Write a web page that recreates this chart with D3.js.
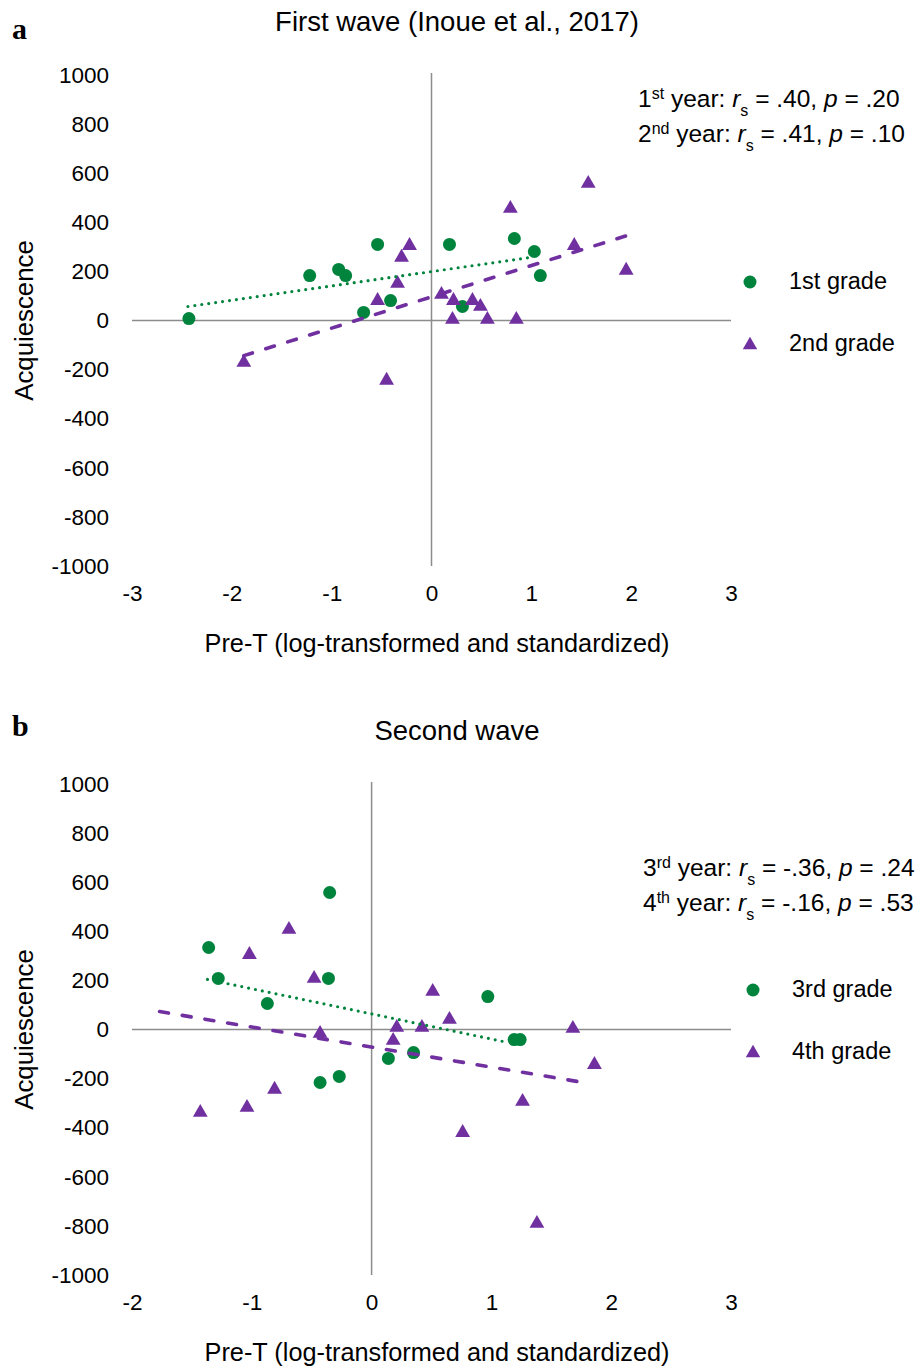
<!DOCTYPE html>
<html>
<head>
<meta charset="utf-8">
<script src="https://cdn.jsdelivr.net/npm/d3@7"></script>
<style>
  body { margin: 0; background: #fff; }
  text { font-family: "Liberation Sans", Arial, sans-serif; fill: #000; }
</style>
</head>
<body>
<div id="chart"></div>
<script>
// ---- data ----
var yTicks = [1000, 800, 600, 400, 200, 0, -200, -400, -600, -800, -1000];
var xTicksA = [-3, -2, -1, 0, 1, 2, 3];
var xTicksB = [-2, -1, 0, 1, 2, 3];

// First wave
var grade1X = [-2.43, -1.22, -0.93, -0.86, -0.54, -0.68, -0.41, 0.18, 0.31, 0.83, 1.03, 1.09];
var grade1Y = [8, 183, 208, 183, 310, 33, 81, 310, 57, 334, 281, 183];
var grade2X = [-1.88, -0.45, -0.54, -0.34, -0.30, -0.22, 0.10, 0.22, 0.21, 0.41, 0.49, 0.56, 0.85, 0.79, 1.57, 1.43, 1.95];
var grade2Y = [-171, -244, 81, 151, 257, 305, 106, 81, 4, 81, 57, 4, 4, 456, 558, 305, 204];
var trend1 = [[-2.44, 57], [0.99, 257]];
var trend2 = [[-1.88, -143], [1.96, 346]];

// Second wave
var grade3X = [-0.35, -1.36, -1.28, -0.36, -0.87, -0.43, -0.27, 0.14, 0.35, 0.97, 1.19, 1.24];
var grade3Y = [558, 334, 208, 208, 106, -216, -191, -118, -94, 134, -41, -41];
var grade4X = [-0.69, -1.02, -0.48, -0.43, -1.43, -1.04, -0.81, 0.21, 0.18, 0.42, 0.51, 0.65, 1.68, 1.86, 1.26, 0.76, 1.38];
var grade4Y = [407, 305, 208, -16, -338, -318, -244, 8, -45, 8, 155, 41, 4, -143, -293, -420, -790];
var trend3 = [[-1.37, 204], [1.14, -53]];
var trend4 = [[-1.77, 73], [1.77, -216]];

var green = "#00843d";
var purple = "#7030a0";
var axisGrey = "#8c8c8c";

var svg = d3.select("#chart")
  .append("svg")
  .attr("width", 919)
  .attr("height", 1367);

function zip(xs, ys) {
  return xs.map(function(x, i) { return { x: x, y: ys[i] }; });
}

// one panel of the figure
function drawPanel(opt) {
  var x = d3.scaleLinear().domain(opt.xDomain).range([132, 731]);
  var y = d3.scaleLinear().domain([-1000, 1000]).range([opt.top + 491, opt.top]);
  var g = svg.append("g");

  // panel letter + title
  g.append("text")
    .attr("x", 12).attr("y", opt.letterY)
    .style("font-family", "'Liberation Serif', 'Times New Roman', serif")
    .style("font-weight", "bold")
    .style("font-size", "30px")
    .text(opt.letter);

  g.append("text")
    .attr("x", 457).attr("y", opt.top - 44)
    .attr("text-anchor", "middle")
    .style("font-size", "27.5px")
    .text(opt.title);

  // tick labels only, axes lines drawn through zero
  var leftAxis = d3.axisLeft(y).tickValues(yTicks).tickSize(0).tickPadding(23)
    .tickFormat(function(d) { return String(d); });
  g.append("g")
    .attr("transform", "translate(132,0)")
    .call(leftAxis)
    .call(function(a) { a.select(".domain").remove(); })
    .selectAll("text")
    .style("font-family", "'Liberation Sans', Arial, sans-serif")
    .style("font-size", "22.5px")
    .attr("fill", "#000");

  var bottomAxis = d3.axisBottom(x).tickValues(opt.xTicks).tickSize(0).tickPadding(19)
    .tickFormat(function(d) { return String(d); });
  g.append("g")
    .attr("transform", "translate(0," + (opt.top + 491) + ")")
    .call(bottomAxis)
    .call(function(a) { a.select(".domain").remove(); })
    .selectAll("text")
    .style("font-family", "'Liberation Sans', Arial, sans-serif")
    .style("font-size", "22.5px")
    .attr("fill", "#000");

  g.append("line")
    .attr("x1", x(opt.xDomain[0])).attr("x2", x(opt.xDomain[1]))
    .attr("y1", y(0)).attr("y2", y(0))
    .attr("stroke", axisGrey).attr("stroke-width", 1.5);
  g.append("line")
    .attr("x1", x(0)).attr("x2", x(0))
    .attr("y1", y(1000) - 2).attr("y2", y(-1000))
    .attr("stroke", axisGrey).attr("stroke-width", 1.5);

  // axis titles
  g.append("text")
    .attr("x", 437).attr("y", opt.top + 577)
    .attr("text-anchor", "middle")
    .style("font-size", "25.3px")
    .text("Pre-T (log-transformed and standardized)");

  g.append("text")
    .attr("transform", "translate(33," + y(0) + ") rotate(-90)")
    .attr("text-anchor", "middle")
    .style("font-size", "25.8px")
    .text("Acquiescence");

  // markers
  g.selectAll(".dot")
    .data(zip(opt.cx, opt.cy))
    .enter()
    .append("circle")
    .attr("cx", function(d) { return x(d.x); })
    .attr("cy", function(d) { return y(d.y); })
    .attr("r", 6.5)
    .attr("fill", green);

  var tri = d3.symbol().type(d3.symbolTriangle).size(95);
  g.selectAll(".tri")
    .data(zip(opt.tx, opt.ty))
    .enter()
    .append("path")
    .attr("d", tri)
    .attr("transform", function(d) { return "translate(" + x(d.x) + "," + y(d.y) + ")"; })
    .attr("fill", purple);

  // trend lines
  var line = d3.line().x(function(d) { return x(d[0]); }).y(function(d) { return y(d[1]); });
  g.append("path")
    .attr("d", line(opt.trendC))
    .attr("fill", "none")
    .attr("stroke", green)
    .attr("stroke-width", 3.2)
    .attr("stroke-linecap", "round")
    .attr("stroke-dasharray", "0,7");
  g.append("path")
    .attr("d", line(opt.trendT))
    .attr("fill", "none")
    .attr("stroke", purple)
    .attr("stroke-width", 3.6)
    .attr("stroke-linecap", "round")
    .attr("stroke-dasharray", "9,14");

  // correlation notes
  opt.notes.forEach(function(n, i) {
    var t = g.append("text")
      .attr("x", opt.noteX).attr("y", opt.noteY + i * 35)
      .style("font-size", "24.5px");
    t.append("tspan").text(n[0]);
    t.append("tspan").attr("baseline-shift", "super").style("font-size", "16px").text(n[1]);
    t.append("tspan").text(" year: ");
    t.append("tspan").style("font-style", "italic").text("r");
    t.append("tspan").attr("baseline-shift", "sub").style("font-size", "16px").text("s");
    t.append("tspan").text(" = " + n[2] + ", ");
    t.append("tspan").style("font-style", "italic").text("p");
    t.append("tspan").text(" = " + n[3]);
  });

  // legend
  var lg = g.append("g");
  lg.append("circle")
    .attr("cx", opt.legX).attr("cy", opt.legY)
    .attr("r", 6.5).attr("fill", green);
  lg.append("text")
    .attr("x", opt.legX + 39).attr("y", opt.legY + 7)
    .style("font-size", "23.5px")
    .text(opt.legend[0]);
  lg.append("path")
    .attr("d", d3.symbol().type(d3.symbolTriangle).size(90))
    .attr("transform", "translate(" + opt.legX + "," + (opt.legY + 63) + ")")
    .attr("fill", purple);
  lg.append("text")
    .attr("x", opt.legX + 39).attr("y", opt.legY + 69)
    .style("font-size", "23.5px")
    .text(opt.legend[1]);
}

drawPanel({
  letter: "a", title: "First wave (Inoue et al., 2017)", top: 75, letterY: 39,
  xDomain: [-3, 3], xTicks: xTicksA,
  cx: grade1X, cy: grade1Y, tx: grade2X, ty: grade2Y,
  trendC: trend1, trendT: trend2,
  notes: [["1", "st", ".40", ".20"], ["2", "nd", ".41", ".10"]],
  noteX: 638, noteY: 107,
  legend: ["1st grade", "2nd grade"], legX: 750, legY: 282
});

drawPanel({
  letter: "b", title: "Second wave", top: 784, letterY: 736,
  xDomain: [-2, 3], xTicks: xTicksB,
  cx: grade3X, cy: grade3Y, tx: grade4X, ty: grade4Y,
  trendC: trend3, trendT: trend4,
  notes: [["3", "rd", "-.36", ".24"], ["4", "th", "-.16", ".53"]],
  noteX: 643, noteY: 876,
  legend: ["3rd grade", "4th grade"], legX: 753, legY: 990
});
</script>
</body>
</html>
